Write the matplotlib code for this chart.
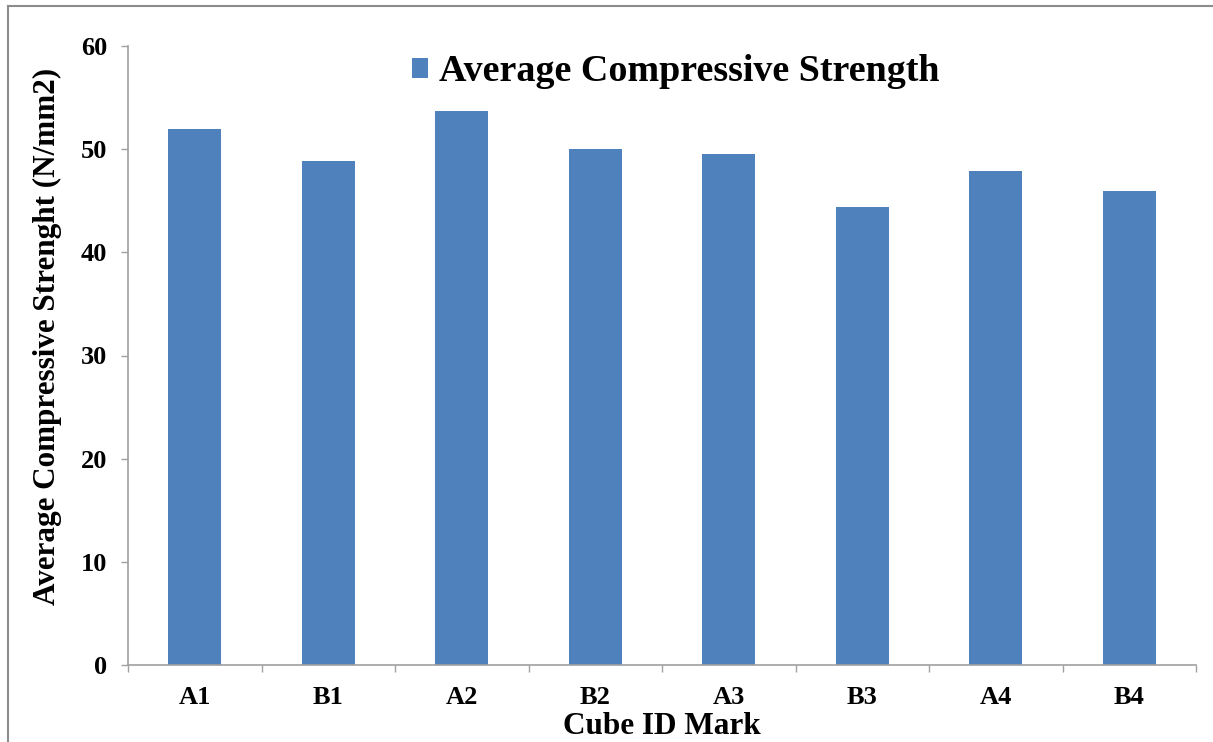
import matplotlib
matplotlib.use("Agg")
import matplotlib.pyplot as plt
from matplotlib.lines import Line2D
import numpy as np

# Average compressive strength per cube ID (N/mm2)
cube_ids = ["A1", "B1", "A2", "B2", "A3", "B3", "A4", "B4"]
avg_strength = [52.0, 48.9, 53.7, 50.0, 49.5, 44.4, 47.9, 45.9]
y_ticks = [0, 10, 20, 30, 40, 50, 60]

plt.rcParams["font.family"] = ["Liberation Serif", "DejaVu Serif"]
plt.rcParams["font.weight"] = "bold"

bar_color = "#4F81BD"
axis_gray = "#A0A0A0"

fig = plt.figure(figsize=(12.13, 7.42), dpi=100)
ax = fig.add_axes([128 / 1213, 1 - 665 / 742, (1196 - 128) / 1213, (665 - 46) / 742])

x = np.arange(len(cube_ids))
ax.bar(x, avg_strength, width=0.4, color=bar_color,
       label="Average Compressive Strength", zorder=2)

ax.set_xlim(-0.5, len(cube_ids) - 0.5)
ax.set_ylim(0, 60)
ax.set_yticks(y_ticks)
ax.set_yticklabels([str(v) for v in y_ticks], fontsize=19, fontweight="bold")

# category labels centred under bars, tick marks on category boundaries
ax.set_xticks(x)
ax.set_xticklabels(cube_ids, fontsize=19, fontweight="bold")
ax.tick_params(axis="x", which="major", length=0, pad=15)
ax.set_xticks(np.arange(-0.5, len(cube_ids)), minor=True)
ax.tick_params(axis="x", which="minor", length=5, width=1, color=axis_gray,
               direction="out")
ax.tick_params(axis="y", length=5, width=1, color=axis_gray, pad=10,
               direction="out")

for side in ("top", "right"):
    ax.spines[side].set_visible(False)
for side in ("left", "bottom"):
    ax.spines[side].set_color(axis_gray)
    ax.spines[side].set_linewidth(1.2)

ax.set_xlabel("Cube ID Mark", fontsize=22.5, fontweight="bold", labelpad=2)
ax.set_ylabel("Average Compressive Strenght (N/mm2)", fontsize=22.4,
              fontweight="bold", labelpad=13.5)
ax.yaxis.label.set_y(0.53)

leg = ax.legend(loc="center left", bbox_to_anchor=(0.266, 0.958), frameon=False,
                prop={"size": 27.4, "weight": "bold"}, handlelength=0.42,
                handleheight=0.42, handletextpad=0.3, borderpad=0,
                borderaxespad=0)

# outer frame of the chart area
fig.add_artist(Line2D([8 / 1213, 8 / 1213], [0, 1 - 6 / 742],
                      transform=fig.transFigure, color="#8C8C8C", lw=1.5))
fig.add_artist(Line2D([8 / 1213, 1], [1 - 6 / 742, 1 - 6 / 742],
                      transform=fig.transFigure, color="#8C8C8C", lw=1.5))

fig.savefig("out.png", dpi=100)
